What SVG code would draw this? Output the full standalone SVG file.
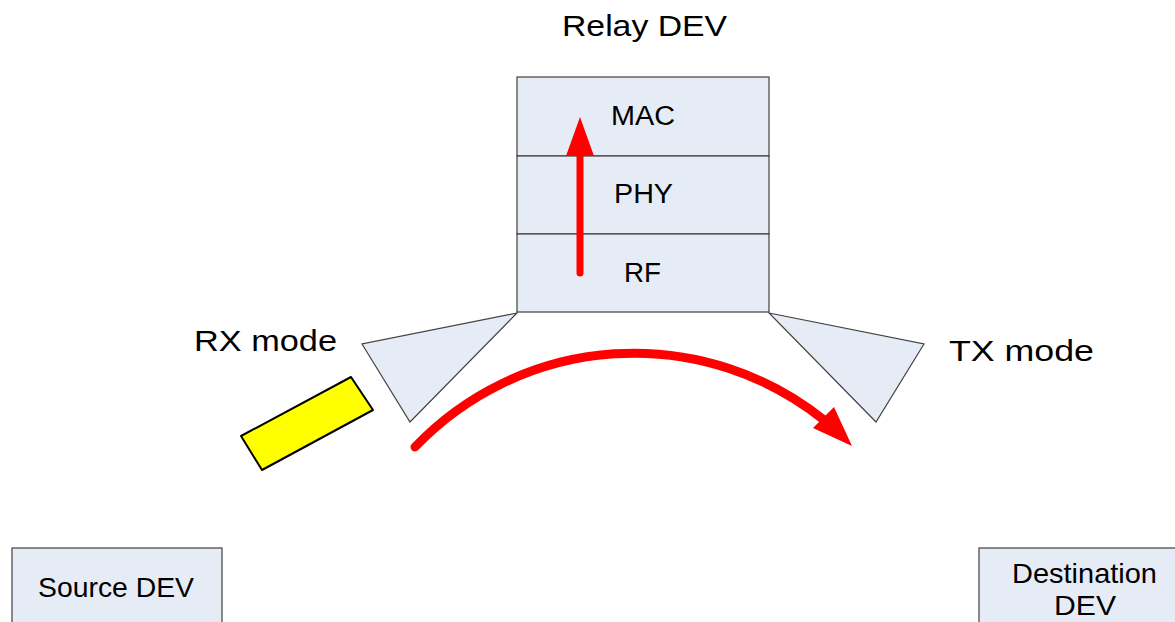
<svg xmlns="http://www.w3.org/2000/svg" width="1175" height="622" viewBox="0 0 1175 622">
<style>
.box{fill:#E6ECF6;stroke:#404040;stroke-width:1.2}
.lbl{font-family:"Liberation Sans",Arial,sans-serif;fill:#000}
.red{fill:#FF0000}
.redline{fill:none;stroke:#FF0000;stroke-linecap:round}
</style>
<rect width="1175" height="622" fill="#fff"/>
<text class="lbl" x="562" y="36" font-size="30" textLength="165" lengthAdjust="spacingAndGlyphs">Relay DEV</text>
<g id="mac"><rect class="box" x="517" y="77" width="252" height="79"/><text class="lbl" x="611" y="125" font-size="27" textLength="64" lengthAdjust="spacingAndGlyphs">MAC</text></g>
<g id="phy"><rect class="box" x="517" y="156" width="252" height="78"/><text class="lbl" x="614" y="203" font-size="27" textLength="59" lengthAdjust="spacingAndGlyphs">PHY</text></g>
<g id="rf"><rect class="box" x="517" y="234" width="252" height="78"/><text class="lbl" x="624" y="282" font-size="27" textLength="37" lengthAdjust="spacingAndGlyphs">RF</text></g>
<g id="rx-antenna"><polygon class="box" points="517,313 362,344 410,422"/></g>
<g id="tx-antenna"><polygon class="box" points="769,313 924,344 876,422"/></g>
<g id="rx-label"><text class="lbl" x="194" y="351" font-size="29" textLength="143" lengthAdjust="spacingAndGlyphs">RX mode</text></g>
<g id="tx-label"><text class="lbl" x="949" y="361" font-size="29" textLength="145" lengthAdjust="spacingAndGlyphs">TX mode</text></g>
<g id="signal"><polygon points="241,436 351,377 373,410 262,470" fill="#FFFF00" stroke="#000" stroke-width="2" stroke-linejoin="round"/></g>
<g id="source"><rect class="box" x="12" y="548" width="210" height="80"/><text class="lbl" x="38" y="597" font-size="28" textLength="156" lengthAdjust="spacingAndGlyphs">Source DEV</text></g>
<g id="destination"><rect class="box" x="979" y="548" width="200" height="80"/><text class="lbl" x="1012" y="583" font-size="28" textLength="145" lengthAdjust="spacingAndGlyphs">Destination</text><text class="lbl" x="1054" y="615" font-size="28" textLength="62" lengthAdjust="spacingAndGlyphs">DEV</text></g>
<g id="connectors">
<line class="redline" x1="580" y1="273" x2="580" y2="150" stroke-width="7"/>
<polygon class="red" points="580,117 566,156 594,156"/>
<path class="redline" d="M415,447 A303,303 0 0,1 824,420" stroke-width="9"/>
<polygon class="red" points="852,446 813,428 834,407"/>
</g>
</svg>
